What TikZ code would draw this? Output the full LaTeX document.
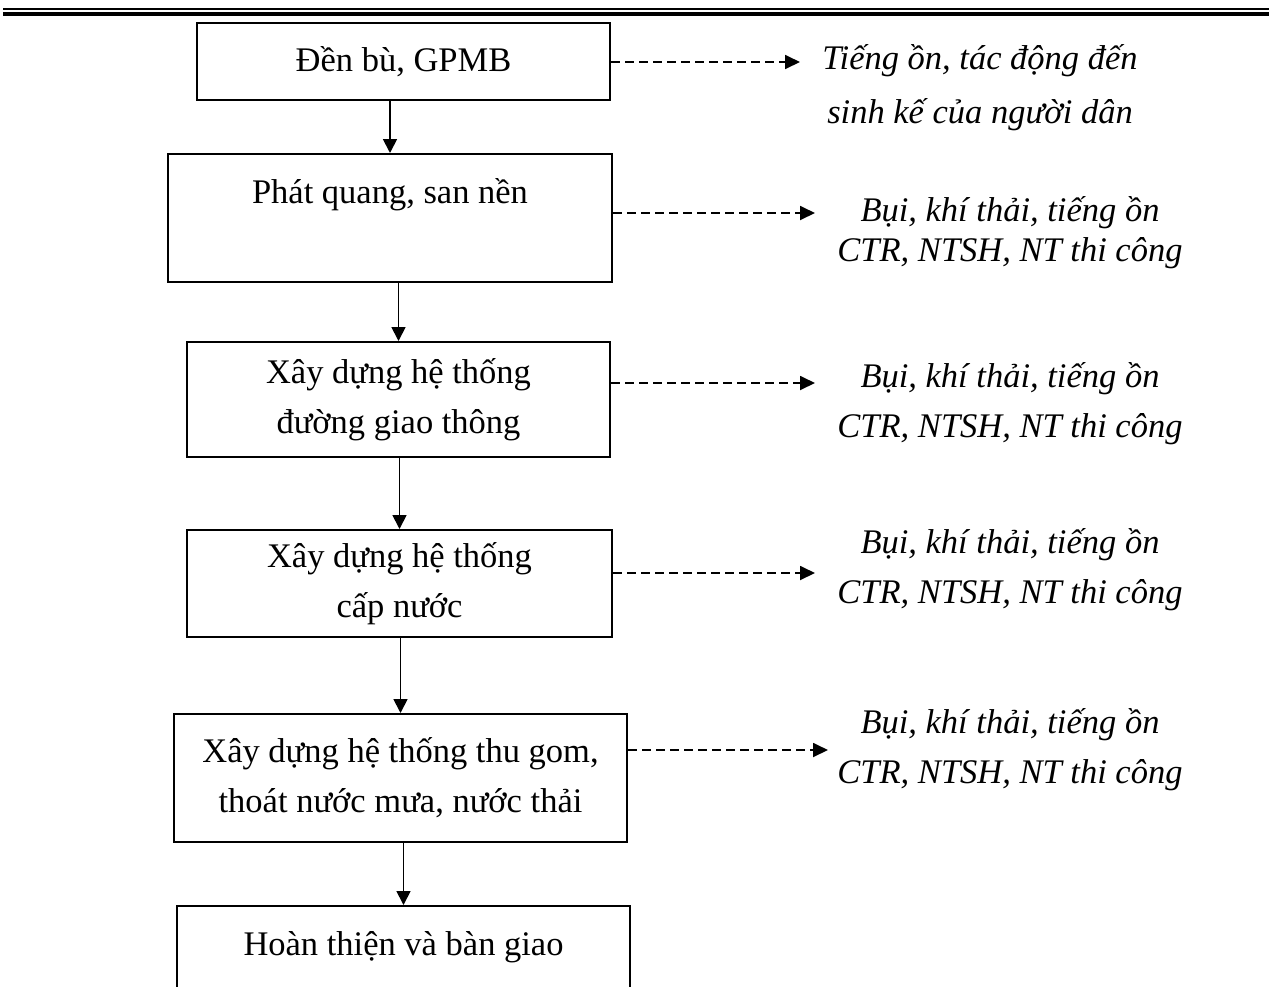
\documentclass[tikz,border=0pt]{standalone}
\usepackage{fontspec}
\setmainfont{Liberation Serif}
\usetikzlibrary{arrows.meta,positioning}

\begin{document}
\begin{tikzpicture}[x=0.5pt, y=-0.5pt,
    stepbox/.style={draw, line width=1pt, inner sep=0pt, align=center,
        font=\fontsize{17.25}{25}\selectfont},
    effect/.style={align=center, inner sep=0pt,
        font=\fontsize{17.25}{25}\selectfont\itshape},
    flow/.style={-{Triangle[length=7pt, width=7pt]}, line width=0.9pt},
    impact/.style={-{Triangle[length=7.5pt, width=7pt]}, line width=0.9pt,
        dash pattern=on 4.5pt off 2.5pt}]

    % khung trang
    \useasboundingbox (0,0) rectangle (1269,986);
    \clip (0,0) rectangle (1269,986);

    % duong ke dau trang
    \draw[line width=1pt] (3,9) -- (1269,9);
    \draw[line width=2pt] (3,14) -- (1269,14);

    % cac buoc thi cong
    \node[stepbox, minimum width=413*0.5pt, minimum height=77*0.5pt]
        (b1) at (403.5,61.5) {Đền bù, GPMB};
    \node[stepbox, minimum width=444*0.5pt, minimum height=128*0.5pt]
        (b2) at (390,218) {Phát quang, san nền\\[2pt]\mbox{}};
    \node[stepbox, minimum width=423*0.5pt, minimum height=115*0.5pt]
        (b3) at (398.5,399.5) {\raisebox{-2pt}{Xây dựng hệ thống}\\\raisebox{-2pt}{đường giao thông}};
    \node[stepbox, minimum width=425*0.5pt, minimum height=107*0.5pt]
        (b4) at (399.5,583.5) {\raisebox{-3pt}{Xây dựng hệ thống}\\\raisebox{-3pt}{cấp nước}};
    \node[stepbox, minimum width=453*0.5pt, minimum height=128*0.5pt]
        (b5) at (400.5,778) {\raisebox{-2pt}{Xây dựng hệ thống thu gom,}\\\raisebox{-2pt}{thoát nước mưa, nước thải}};
    \node[stepbox, minimum width=453*0.5pt, minimum height=128*0.5pt]
        (b6) at (403.5,970) {Hoàn thiện và bàn giao\\[2pt]\mbox{}};

    % mui ten giua cac buoc
    \foreach \a/\b in {b1/b2, b2/b3, b3/b4, b4/b5, b5/b6} {
        \draw[flow] (\b.north |- \a.south) -- (\b.north);
    }

    % tac dong moi truong
    \node[effect, font=\fontsize{17.25}{27}\selectfont\itshape]
        (t1) at (980,88) {Tiếng ồn, tác động đến\\sinh kế của người dân};
    \node[effect, font=\fontsize{17.25}{20}\selectfont\itshape]
        (t2) at (1010,233) {Bụi, khí thải, tiếng ồn\\CTR, NTSH, NT thi công};
    \node[effect] (t3) at (1010,404) {Bụi, khí thải, tiếng ồn\\CTR, NTSH, NT thi công};
    \node[effect] (t4) at (1010,570) {Bụi, khí thải, tiếng ồn\\CTR, NTSH, NT thi công};
    \node[effect] (t5) at (1010,750) {Bụi, khí thải, tiếng ồn\\CTR, NTSH, NT thi công};

    % diem cuoi mui ten net dut
    \coordinate (e1) at (800,62);
    \coordinate (e2) at (815,213);
    \coordinate (e3) at (815,383);
    \coordinate (e4) at (815,573);
    \coordinate (e5) at (828,750);

    \foreach \i in {1,...,5} {
        \draw[impact] (b\i.east |- e\i) -- (e\i);
    }

\end{tikzpicture}
\end{document}
